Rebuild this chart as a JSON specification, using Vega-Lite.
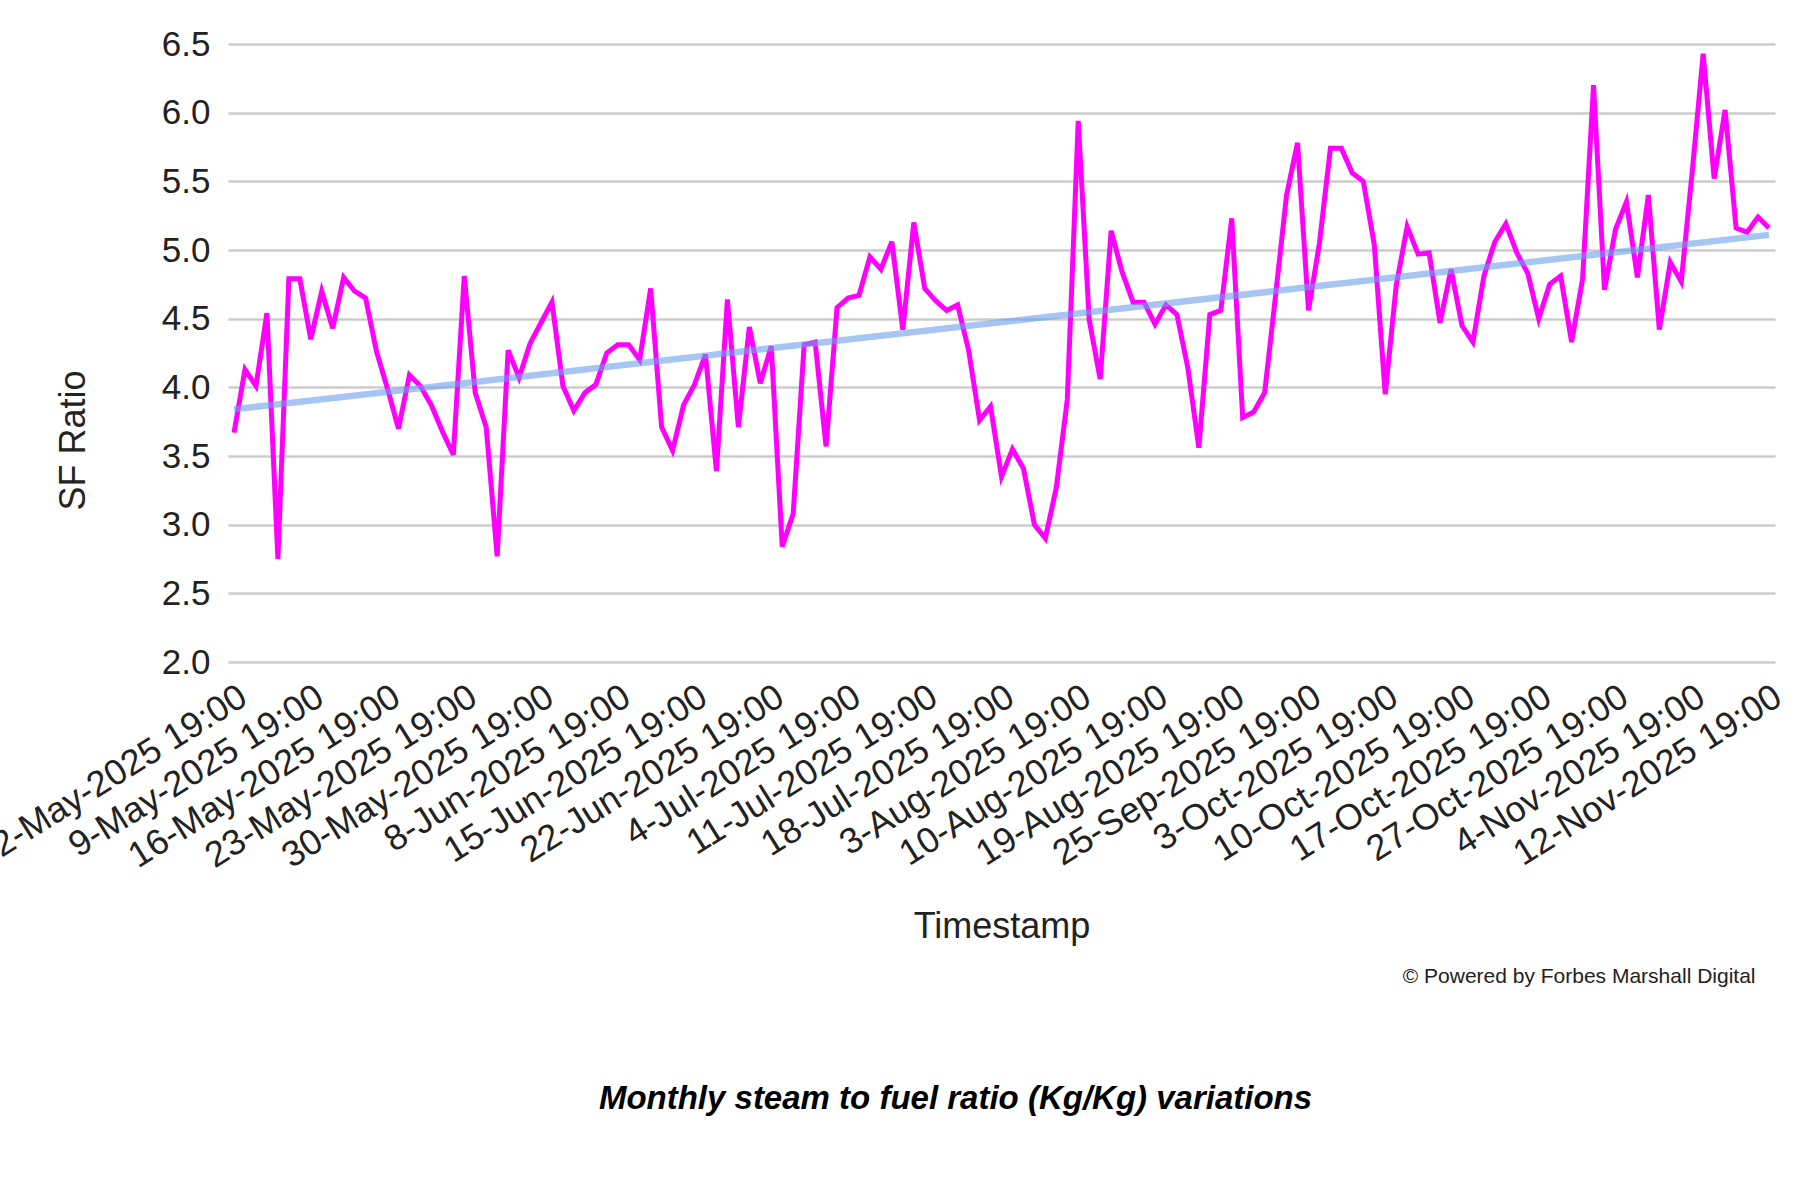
{
  "$schema": "https://vega.github.io/schema/vega-lite/v6.json",
  "width": 1547,
  "height": 618,
  "autosize": "none",
  "padding": {"left": 228, "top": 44, "right": 25, "bottom": 538},
  "background": "white",
  "title": {
    "text": "Monthly steam to fuel ratio (Kg/Kg) variations",
    "orient": "bottom",
    "anchor": "middle",
    "offset": 97,
    "dx": -46,
    "font": "Liberation Sans",
    "fontSize": 33,
    "fontWeight": "bold",
    "fontStyle": "italic",
    "color": "#000000"
  },
  "data": {
    "values": [
      {"Timestamp": "2-May-2025 19:00", "SF Ratio": 3.67, "Trend": 3.84},
      {"Timestamp": "3-May-2025 19:00", "SF Ratio": 4.13},
      {"Timestamp": "4-May-2025 19:00", "SF Ratio": 4.01},
      {"Timestamp": "5-May-2025 19:00", "SF Ratio": 4.54},
      {"Timestamp": "6-May-2025 19:00", "SF Ratio": 2.75},
      {"Timestamp": "7-May-2025 19:00", "SF Ratio": 4.79},
      {"Timestamp": "8-May-2025 19:00", "SF Ratio": 4.79},
      {"Timestamp": "9-May-2025 19:00", "SF Ratio": 4.35},
      {"Timestamp": "10-May-2025 19:00", "SF Ratio": 4.70},
      {"Timestamp": "11-May-2025 19:00", "SF Ratio": 4.43},
      {"Timestamp": "12-May-2025 19:00", "SF Ratio": 4.80},
      {"Timestamp": "13-May-2025 19:00", "SF Ratio": 4.70},
      {"Timestamp": "14-May-2025 19:00", "SF Ratio": 4.65},
      {"Timestamp": "15-May-2025 19:00", "SF Ratio": 4.26},
      {"Timestamp": "16-May-2025 19:00", "SF Ratio": 3.99},
      {"Timestamp": "17-May-2025 19:00", "SF Ratio": 3.70},
      {"Timestamp": "18-May-2025 19:00", "SF Ratio": 4.09},
      {"Timestamp": "19-May-2025 19:00", "SF Ratio": 4.01},
      {"Timestamp": "20-May-2025 19:00", "SF Ratio": 3.87},
      {"Timestamp": "21-May-2025 19:00", "SF Ratio": 3.68},
      {"Timestamp": "22-May-2025 19:00", "SF Ratio": 3.51},
      {"Timestamp": "23-May-2025 19:00", "SF Ratio": 4.81},
      {"Timestamp": "24-May-2025 19:00", "SF Ratio": 3.96},
      {"Timestamp": "25-May-2025 19:00", "SF Ratio": 3.71},
      {"Timestamp": "26-May-2025 19:00", "SF Ratio": 2.77},
      {"Timestamp": "27-May-2025 19:00", "SF Ratio": 4.27},
      {"Timestamp": "28-May-2025 19:00", "SF Ratio": 4.07},
      {"Timestamp": "29-May-2025 19:00", "SF Ratio": 4.32},
      {"Timestamp": "30-May-2025 19:00", "SF Ratio": 4.47},
      {"Timestamp": "31-May-2025 19:00", "SF Ratio": 4.62},
      {"Timestamp": "1-Jun-2025 19:00", "SF Ratio": 4.01},
      {"Timestamp": "3-Jun-2025 19:00", "SF Ratio": 3.83},
      {"Timestamp": "4-Jun-2025 19:00", "SF Ratio": 3.96},
      {"Timestamp": "6-Jun-2025 19:00", "SF Ratio": 4.02},
      {"Timestamp": "7-Jun-2025 19:00", "SF Ratio": 4.25},
      {"Timestamp": "8-Jun-2025 19:00", "SF Ratio": 4.31},
      {"Timestamp": "9-Jun-2025 19:00", "SF Ratio": 4.31},
      {"Timestamp": "10-Jun-2025 19:00", "SF Ratio": 4.20},
      {"Timestamp": "11-Jun-2025 19:00", "SF Ratio": 4.72},
      {"Timestamp": "12-Jun-2025 19:00", "SF Ratio": 3.71},
      {"Timestamp": "13-Jun-2025 19:00", "SF Ratio": 3.54},
      {"Timestamp": "14-Jun-2025 19:00", "SF Ratio": 3.87},
      {"Timestamp": "15-Jun-2025 19:00", "SF Ratio": 4.02},
      {"Timestamp": "16-Jun-2025 19:00", "SF Ratio": 4.24},
      {"Timestamp": "17-Jun-2025 19:00", "SF Ratio": 3.39},
      {"Timestamp": "18-Jun-2025 19:00", "SF Ratio": 4.64},
      {"Timestamp": "19-Jun-2025 19:00", "SF Ratio": 3.71},
      {"Timestamp": "20-Jun-2025 19:00", "SF Ratio": 4.44},
      {"Timestamp": "21-Jun-2025 19:00", "SF Ratio": 4.03},
      {"Timestamp": "22-Jun-2025 19:00", "SF Ratio": 4.30},
      {"Timestamp": "23-Jun-2025 19:00", "SF Ratio": 2.84},
      {"Timestamp": "25-Jun-2025 19:00", "SF Ratio": 3.08},
      {"Timestamp": "27-Jun-2025 19:00", "SF Ratio": 4.31},
      {"Timestamp": "29-Jun-2025 19:00", "SF Ratio": 4.33},
      {"Timestamp": "1-Jul-2025 19:00", "SF Ratio": 3.57},
      {"Timestamp": "2-Jul-2025 19:00", "SF Ratio": 4.58},
      {"Timestamp": "4-Jul-2025 19:00", "SF Ratio": 4.65},
      {"Timestamp": "5-Jul-2025 19:00", "SF Ratio": 4.67},
      {"Timestamp": "6-Jul-2025 19:00", "SF Ratio": 4.95},
      {"Timestamp": "7-Jul-2025 19:00", "SF Ratio": 4.86},
      {"Timestamp": "8-Jul-2025 19:00", "SF Ratio": 5.06},
      {"Timestamp": "9-Jul-2025 19:00", "SF Ratio": 4.42},
      {"Timestamp": "10-Jul-2025 19:00", "SF Ratio": 5.20},
      {"Timestamp": "11-Jul-2025 19:00", "SF Ratio": 4.72},
      {"Timestamp": "12-Jul-2025 19:00", "SF Ratio": 4.63},
      {"Timestamp": "13-Jul-2025 19:00", "SF Ratio": 4.56},
      {"Timestamp": "14-Jul-2025 19:00", "SF Ratio": 4.60},
      {"Timestamp": "15-Jul-2025 19:00", "SF Ratio": 4.27},
      {"Timestamp": "16-Jul-2025 19:00", "SF Ratio": 3.76},
      {"Timestamp": "17-Jul-2025 19:00", "SF Ratio": 3.86},
      {"Timestamp": "18-Jul-2025 19:00", "SF Ratio": 3.35},
      {"Timestamp": "19-Jul-2025 19:00", "SF Ratio": 3.55},
      {"Timestamp": "21-Jul-2025 19:00", "SF Ratio": 3.41},
      {"Timestamp": "24-Jul-2025 19:00", "SF Ratio": 3.00},
      {"Timestamp": "27-Jul-2025 19:00", "SF Ratio": 2.90},
      {"Timestamp": "30-Jul-2025 19:00", "SF Ratio": 3.27},
      {"Timestamp": "1-Aug-2025 19:00", "SF Ratio": 3.91},
      {"Timestamp": "3-Aug-2025 19:00", "SF Ratio": 5.94},
      {"Timestamp": "4-Aug-2025 19:00", "SF Ratio": 4.49},
      {"Timestamp": "5-Aug-2025 19:00", "SF Ratio": 4.06},
      {"Timestamp": "6-Aug-2025 19:00", "SF Ratio": 5.14},
      {"Timestamp": "7-Aug-2025 19:00", "SF Ratio": 4.84},
      {"Timestamp": "8-Aug-2025 19:00", "SF Ratio": 4.62},
      {"Timestamp": "9-Aug-2025 19:00", "SF Ratio": 4.62},
      {"Timestamp": "10-Aug-2025 19:00", "SF Ratio": 4.46},
      {"Timestamp": "11-Aug-2025 19:00", "SF Ratio": 4.60},
      {"Timestamp": "12-Aug-2025 19:00", "SF Ratio": 4.53},
      {"Timestamp": "14-Aug-2025 19:00", "SF Ratio": 4.14},
      {"Timestamp": "15-Aug-2025 19:00", "SF Ratio": 3.56},
      {"Timestamp": "17-Aug-2025 19:00", "SF Ratio": 4.53},
      {"Timestamp": "18-Aug-2025 19:00", "SF Ratio": 4.56},
      {"Timestamp": "19-Aug-2025 19:00", "SF Ratio": 5.23},
      {"Timestamp": "20-Aug-2025 19:00", "SF Ratio": 3.78},
      {"Timestamp": "21-Aug-2025 19:00", "SF Ratio": 3.82},
      {"Timestamp": "22-Aug-2025 19:00", "SF Ratio": 3.96},
      {"Timestamp": "23-Aug-2025 19:00", "SF Ratio": 4.67},
      {"Timestamp": "21-Sep-2025 19:00", "SF Ratio": 5.40},
      {"Timestamp": "23-Sep-2025 19:00", "SF Ratio": 5.78},
      {"Timestamp": "25-Sep-2025 19:00", "SF Ratio": 4.56},
      {"Timestamp": "26-Sep-2025 19:00", "SF Ratio": 5.05},
      {"Timestamp": "27-Sep-2025 19:00", "SF Ratio": 5.74},
      {"Timestamp": "28-Sep-2025 19:00", "SF Ratio": 5.74},
      {"Timestamp": "29-Sep-2025 19:00", "SF Ratio": 5.56},
      {"Timestamp": "30-Sep-2025 19:00", "SF Ratio": 5.50},
      {"Timestamp": "2-Oct-2025 19:00", "SF Ratio": 5.04},
      {"Timestamp": "3-Oct-2025 19:00", "SF Ratio": 3.95},
      {"Timestamp": "4-Oct-2025 19:00", "SF Ratio": 4.74},
      {"Timestamp": "5-Oct-2025 19:00", "SF Ratio": 5.17},
      {"Timestamp": "6-Oct-2025 19:00", "SF Ratio": 4.97},
      {"Timestamp": "7-Oct-2025 19:00", "SF Ratio": 4.98},
      {"Timestamp": "8-Oct-2025 19:00", "SF Ratio": 4.47},
      {"Timestamp": "9-Oct-2025 19:00", "SF Ratio": 4.86},
      {"Timestamp": "10-Oct-2025 19:00", "SF Ratio": 4.45},
      {"Timestamp": "11-Oct-2025 19:00", "SF Ratio": 4.33},
      {"Timestamp": "12-Oct-2025 19:00", "SF Ratio": 4.81},
      {"Timestamp": "13-Oct-2025 19:00", "SF Ratio": 5.06},
      {"Timestamp": "14-Oct-2025 19:00", "SF Ratio": 5.19},
      {"Timestamp": "15-Oct-2025 19:00", "SF Ratio": 4.98},
      {"Timestamp": "16-Oct-2025 19:00", "SF Ratio": 4.83},
      {"Timestamp": "17-Oct-2025 19:00", "SF Ratio": 4.50},
      {"Timestamp": "18-Oct-2025 19:00", "SF Ratio": 4.75},
      {"Timestamp": "20-Oct-2025 19:00", "SF Ratio": 4.81},
      {"Timestamp": "21-Oct-2025 19:00", "SF Ratio": 4.33},
      {"Timestamp": "23-Oct-2025 19:00", "SF Ratio": 4.79},
      {"Timestamp": "24-Oct-2025 19:00", "SF Ratio": 6.20},
      {"Timestamp": "26-Oct-2025 19:00", "SF Ratio": 4.71},
      {"Timestamp": "27-Oct-2025 19:00", "SF Ratio": 5.15},
      {"Timestamp": "28-Oct-2025 19:00", "SF Ratio": 5.35},
      {"Timestamp": "29-Oct-2025 19:00", "SF Ratio": 4.80},
      {"Timestamp": "30-Oct-2025 19:00", "SF Ratio": 5.40},
      {"Timestamp": "31-Oct-2025 19:00", "SF Ratio": 4.42},
      {"Timestamp": "1-Nov-2025 19:00", "SF Ratio": 4.91},
      {"Timestamp": "3-Nov-2025 19:00", "SF Ratio": 4.77},
      {"Timestamp": "4-Nov-2025 19:00", "SF Ratio": 5.57},
      {"Timestamp": "5-Nov-2025 19:00", "SF Ratio": 6.43},
      {"Timestamp": "6-Nov-2025 19:00", "SF Ratio": 5.52},
      {"Timestamp": "7-Nov-2025 19:00", "SF Ratio": 6.02},
      {"Timestamp": "8-Nov-2025 19:00", "SF Ratio": 5.16},
      {"Timestamp": "9-Nov-2025 19:00", "SF Ratio": 5.13},
      {"Timestamp": "11-Nov-2025 19:00", "SF Ratio": 5.24},
      {"Timestamp": "12-Nov-2025 19:00", "SF Ratio": 5.16, "Trend": 5.11}
    ]
  },
  "layer": [
    {
      "mark": {"type": "line", "color": "#ff00ff", "strokeWidth": 5},
      "encoding": {
        "x": {
          "field": "Timestamp",
          "type": "ordinal",
          "sort": null,
          "scale": {"padding": 0.55},
          "axis": {
            "values": [
              "2-May-2025 19:00", "9-May-2025 19:00", "16-May-2025 19:00",
              "23-May-2025 19:00", "30-May-2025 19:00", "8-Jun-2025 19:00",
              "15-Jun-2025 19:00", "22-Jun-2025 19:00", "4-Jul-2025 19:00",
              "11-Jul-2025 19:00", "18-Jul-2025 19:00", "3-Aug-2025 19:00",
              "10-Aug-2025 19:00", "19-Aug-2025 19:00", "25-Sep-2025 19:00",
              "3-Oct-2025 19:00", "10-Oct-2025 19:00", "17-Oct-2025 19:00",
              "27-Oct-2025 19:00", "4-Nov-2025 19:00", "12-Nov-2025 19:00"
            ],
            "labelAngle": -32,
            "labelFont": "Liberation Sans",
            "labelFontSize": 36,
            "labelColor": "#222222",
            "labelOverlap": false,
            "labelLimit": 0,
            "labelPadding": 17,
            "labelDx": 6,
            "domain": false,
            "ticks": false,
            "grid": false,
            "title": "Timestamp",
            "titleFont": "Liberation Sans",
            "titleFontSize": 36,
            "titleFontWeight": "normal",
            "titleColor": "#222222",
            "titleY": 264,
            "titleBaseline": "middle"
          }
        },
        "y": {
          "field": "SF Ratio",
          "type": "quantitative",
          "scale": {"domain": [2, 6.5], "nice": false, "zero": false},
          "axis": {
            "title": "SF Ratio",
            "values": [2, 2.5, 3, 3.5, 4, 4.5, 5, 5.5, 6, 6.5],
            "format": ".1f",
            "domain": false,
            "ticks": false,
            "labelPadding": 18,
            "labelFont": "Liberation Sans",
            "labelFontSize": 35,
            "labelColor": "#222222",
            "gridColor": "#cccccc",
            "gridWidth": 2.5,
            "titleFont": "Liberation Sans",
            "titleFontSize": 36,
            "titleFontWeight": "normal",
            "titleColor": "#222222",
            "titleAngle": -90,
            "titleX": -155,
            "titleY": 396,
            "titleAlign": "center",
            "titleBaseline": "middle"
          }
        }
      }
    },
    {
      "transform": [{"filter": "isValid(datum.Trend)"}],
      "mark": {"type": "line", "color": "#6d9eeb", "strokeWidth": 6.5, "opacity": 0.6},
      "encoding": {
        "x": {
          "field": "Timestamp",
          "type": "ordinal",
          "sort": null,
          "axis": {
            "orient": "bottom",
            "labels": false,
            "ticks": false,
            "domain": false,
            "grid": false,
            "title": "© Powered by Forbes Marshall Digital",
            "titleFont": "Liberation Sans",
            "titleFontSize": 21,
            "titleFontWeight": "normal",
            "titleColor": "#222222",
            "titleY": 314,
            "titleX": 1527,
            "titleAlign": "right",
            "titleBaseline": "middle"
          }
        },
        "y": {
          "field": "Trend",
          "type": "quantitative",
          "scale": {"domain": [2, 6.5], "nice": false, "zero": false},
          "axis": {
            "title": "SF Ratio",
            "values": [2, 2.5, 3, 3.5, 4, 4.5, 5, 5.5, 6, 6.5],
            "format": ".1f",
            "domain": false,
            "ticks": false,
            "labelPadding": 18,
            "labelFont": "Liberation Sans",
            "labelFontSize": 35,
            "labelColor": "#222222",
            "gridColor": "#cccccc",
            "gridWidth": 2.5,
            "titleFont": "Liberation Sans",
            "titleFontSize": 36,
            "titleFontWeight": "normal",
            "titleColor": "#222222",
            "titleAngle": -90,
            "titleX": -155,
            "titleY": 396,
            "titleAlign": "center",
            "titleBaseline": "middle"
          }
        }
      }
    }
  ],
  "resolve": {"axis": {"x": "independent"}},
  "config": {"view": {"stroke": null}}
}
